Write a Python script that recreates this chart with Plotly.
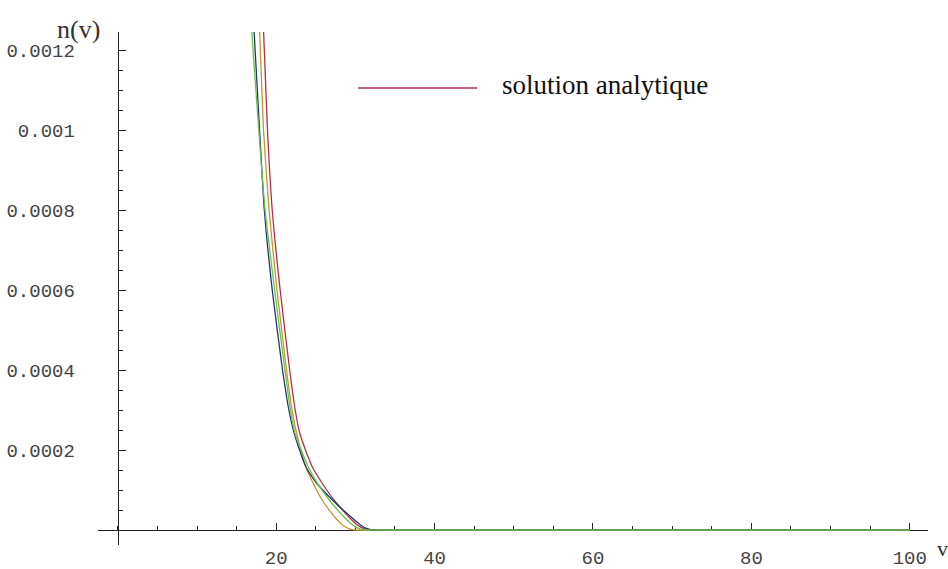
import plotly.graph_objects as go

# Velocity points (v) and distribution values n(v) for each curve
n_levels = [0.00140, 0.00125, 0.00100, 0.00080, 0.00060, 0.00040, 0.00030, 0.00024,
            0.00016, 0.00012, 0.000075, 0.00003, 0.000012, 0.000004, 0.0, 0.0, 0.0]

v_blue = [16.8, 17.2, 17.9, 18.5, 19.5, 20.8, 21.6, 22.3, 23.7, 25.0, 27.1, 29.6, 30.7, 31.4, 32.2, 34.0, 100.0]
v_red = [18.0, 18.4, 18.9, 19.5, 20.5, 21.7, 22.4, 23.0, 24.5, 25.7, 27.3, 29.3, 30.3, 31.0, 31.8, 34.0, 100.0]
v_orange = [17.5, 17.9, 18.4, 19.1, 20.1, 21.3, 22.0, 22.6, 23.7, 24.6, 25.8, 27.5, 28.4, 29.1, 29.9, 34.0, 100.0]
v_green = [16.4, 16.9, 17.8, 18.6, 19.8, 21.1, 21.8, 22.4, 24.0, 25.1, 26.7, 28.7, 29.7, 30.4, 31.2, 34.0, 100.0]

n_blue = n_levels
n_red = n_levels
n_orange = n_levels
n_green = n_levels

x_ticks = [20, 40, 60, 80, 100]
y_ticks = [0.0002, 0.0004, 0.0006, 0.0008, 0.001, 0.0012]
y_tick_text = ["0.0002", "0.0004", "0.0006", "0.0008", "0.001", "0.0012"]

x_range = [-2.5, 102.3]
y_range = [-0.0000375, 0.001245]

curves = [
    (v_red, n_red, "#b03050"),
    (v_orange, n_orange, "#c8962a"),
    (v_blue, n_blue, "#1e3b68"),
    (v_green, n_green, "#6cbf4a"),
]

fig = go.Figure()
for vx, ny, col in curves:
    fig.add_trace(go.Scatter(
        x=vx, y=ny, mode="lines",
        line=dict(color=col, width=1.3, shape="spline", smoothing=0.6),
        showlegend=False, hoverinfo="skip",
    ))

tick_font = dict(family="Liberation Mono", size=19, color="#444444")

# axes cross at the origin
x_axis_pos = (0 - y_range[0]) / (y_range[1] - y_range[0])
y_axis_pos = (0 - x_range[0]) / (x_range[1] - x_range[0])

fig.update_layout(
    width=948, height=569,
    margin=dict(l=98, r=20, t=32, b=24, autoexpand=False),
    paper_bgcolor="white", plot_bgcolor="white",
    xaxis=dict(
        range=x_range, anchor="free", position=x_axis_pos, automargin=False,
        showgrid=False, zeroline=False, showline=True,
        linecolor="#222222", linewidth=1.3,
        tickmode="array", tickvals=x_ticks, ticktext=[str(t) for t in x_ticks],
        ticks="inside", ticklen=7, tickcolor="#222222", tickwidth=1,
        minor=dict(dtick=5, tick0=0, ticks="inside", ticklen=4, tickcolor="#222222"),
        tickfont=tick_font, ticklabelstandoff=10, layer="below traces",
    ),
    yaxis=dict(
        range=y_range, anchor="free", position=y_axis_pos, automargin=False,
        showgrid=False, zeroline=False, showline=True,
        linecolor="#222222", linewidth=1.3,
        tickmode="array", tickvals=y_ticks, ticktext=y_tick_text,
        ticks="inside", ticklen=7, tickcolor="#222222", tickwidth=1,
        minor=dict(dtick=0.00005, tick0=0, ticks="inside", ticklen=4, tickcolor="#222222"),
        tickfont=tick_font, ticklabelstandoff=39, layer="below traces",
    ),
    shapes=[
        dict(type="line", xref="paper", yref="paper",
             x0=(358 - 98) / 830, x1=(477 - 98) / 830,
             y0=(545 - 88) / 513, y1=(545 - 88) / 513,
             line=dict(color="#b03050", width=1.5)),
    ],
    annotations=[
        dict(text="solution analytique", xref="paper", yref="paper",
             x=(500 - 98) / 830, y=(545 - 85) / 513, xanchor="left", yanchor="middle",
             showarrow=False, font=dict(family="Liberation Serif", size=27, color="#111111")),
        dict(text="n(v)", xref="paper", yref="paper",
             x=(78 - 98) / 830, y=(545 - 30) / 513, xanchor="center", yanchor="middle",
             showarrow=False, font=dict(family="Liberation Serif", size=26, color="#333333")),
        dict(text="v", xref="paper", yref="paper",
             x=(942 - 98) / 830, y=(545 - 548) / 513, xanchor="center", yanchor="middle",
             showarrow=False, font=dict(family="Liberation Serif", size=22, color="#333333")),
    ],
)

fig.write_html("out.html")
